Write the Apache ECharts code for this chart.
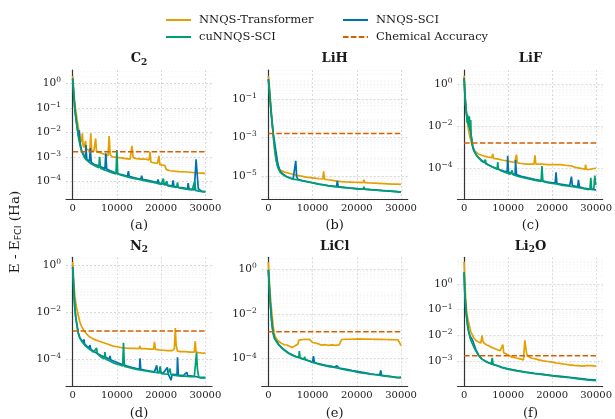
<!DOCTYPE html>
<html><head><meta charset="utf-8">
<script src="https://cdn.jsdelivr.net/npm/echarts@6/dist/echarts.min.js"></script>
<style>html,body{margin:0;padding:0;background:#fff}#c{width:615px;height:419px}</style>
</head><body><div id="c"></div>
<script>
// ---------- names, ticks ----------
const SERIES_NAMES = ['NNQS-Transformer', 'NNQS-SCI', 'cuNNQS-SCI', 'Chemical Accuracy'];
const CHEMICAL_ACCURACY = 1.6e-3;
const X_TICKS = [0, 10000, 20000, 30000];
const X_RANGE = [-1500, 31500];
const PANEL_MOLECULES = [['C', '2', ''], ['LiH', '', ''], ['LiF', '', ''], ['N', '2', ''], ['LiCl', '', ''], ['Li', '2', 'O']];
const PANEL_LETTERS = ['(a)', '(b)', '(c)', '(d)', '(e)', '(f)'];
const Y_TICKS_A = [1e-4, 1e-3, 1e-2, 1e-1, 1];
const Y_TICKS_B = [1e-5, 1e-3, 1e-1];
const Y_TICKS_C = [1e-4, 1e-2, 1];
const Y_TICKS_D = [1e-4, 1e-2, 1];
const Y_TICKS_E = [1e-4, 1e-2, 1];
const Y_TICKS_F = [1e-3, 1e-2, 1e-1, 1];
const MINOR_MULTIPLIERS = [2, 3, 4, 5, 6, 7, 8, 9];
// y extents (log10 exponents)
const Y_EXP_A = [-4.72, 0.54];
const Y_EXP_B = [-6.21, 0.51];
const Y_EXP_C = [-5.46, 0.68];
const Y_EXP_D = [-5.15, 0.33];
const Y_EXP_E = [-5.24, 0.54];
const Y_EXP_F = [-3.99, 1.04];

// ---------- (a) C2 ----------
const C2_TRANSFORMER = [[0,2.0],[150,1.0],[300,0.4],[500,0.15],[800,0.06],[1100,0.025],[1400,0.012],[1700,0.006],[2000,0.004],[2200,0.009],[2350,0.003],[2600,0.0024],[2900,0.0045],[3100,0.0021],[3500,0.0019],[3900,0.0018],[4100,0.009],[4300,0.0018],[4800,0.0017],[5200,0.0056],[5400,0.0016],[6000,0.0015],[6500,0.0014],[7000,0.0013],[7500,0.0012],[8000,0.0011],[8250,0.007],[8500,0.0012],[9000,0.001],[10000,0.00095],[11000,0.0009],[12000,0.00085],[13000,0.0008],[13400,0.0028],[13700,0.0009],[14500,0.00085],[15500,0.0008],[16500,0.0008],[17300,0.00075],[17500,0.0016],[17700,0.0006],[18500,0.00057],[19200,0.00055],[19500,0.0011],[19700,0.00048],[20300,0.00046],[20800,0.00045],[21200,0.0003],[22000,0.00027],[24000,0.00025],[26000,0.00024],[28000,0.00022],[30000,0.00021]];
const C2_SCI = [[0,1.6],[150,0.65],[300,0.27],[500,0.09],[800,0.032],[1100,0.013],[1300,0.007],[1500,0.012],[1600,0.005],[1800,0.003],[2000,0.0019],[2500,0.0012],[2900,0.00085],[3000,0.003],[3200,0.0008],[3800,0.00065],[4000,0.0023],[4200,0.0006],[4800,0.0005],[5500,0.00045],[6500,0.00038],[7300,0.00033],[7500,0.0014],[7700,0.00032],[8500,0.00027],[9500,0.00023],[10500,0.0002],[11500,0.00018],[12400,0.00016],[12600,0.00026],[12800,0.00016],[14000,0.00014],[15400,0.00012],[15600,0.00017],[15800,0.00012],[17000,0.00011],[18000,0.0001],[19100,0.00009],[19300,0.00012],[19500,0.000085],[20500,0.000078],[21500,0.00007],[22500,0.000064],[22700,0.00011],[22900,0.000062],[24000,0.000057],[25000,0.000054],[26000,0.00005],[26100,0.000085],[26300,0.00005],[27500,0.000045],[27700,0.00005],[27900,0.0008],[28200,0.0007],[28400,0.00005],[29200,0.000039],[30000,0.000037]];
const C2_CUNNQS = [[0,1.5],[150,0.6],[300,0.25],[500,0.08],[800,0.03],[1100,0.012],[1400,0.005],[1700,0.0028],[2000,0.0017],[2500,0.0011],[3000,0.00078],[3500,0.00065],[4000,0.00055],[5000,0.00043],[5900,0.00036],[6100,0.001],[6300,0.00034],[7000,0.0003],[8000,0.00026],[9000,0.00022],[9800,0.0002],[10000,0.0019],[10200,0.0002],[11000,0.00018],[12000,0.00016],[13000,0.00014],[14000,0.00013],[15000,0.00012],[16000,0.00011],[17000,0.0001],[18000,0.000092],[19000,0.000085],[20000,0.000075],[20500,0.00013],[20700,0.00007],[21000,0.000068],[21300,0.0001],[21500,0.000065],[22500,0.00006],[23500,0.000056],[23700,0.00009],[23900,0.000055],[25000,0.00005],[26000,0.000047],[27000,0.000045],[27600,0.0001],[27800,0.000043],[28500,0.00004],[29300,0.000038],[30000,0.000038]];

// ---------- (b) LiH ----------
const LIH_TRANSFORMER = [[0,1.6],[200,0.6],[400,0.15],[600,0.04],[800,0.01],[1000,0.003],[1200,0.0008],[1400,0.00025],[1700,0.00008],[2000,0.00004],[2600,0.00002],[3500,0.000016],[4500,0.000014],[5500,0.000012],[6500,0.0000105],[7500,0.0000095],[8500,0.0000085],[9500,0.000008],[10500,0.0000075],[11500,0.000007],[12300,0.0000068],[12500,0.000017],[12700,0.0000066],[13500,0.0000062],[14500,0.0000058],[15500,0.0000053],[16500,0.000005],[17500,0.0000048],[18500,0.0000047],[19500,0.0000046],[20500,0.0000045],[21400,0.0000044],[21600,0.0000062],[21800,0.0000044],[23000,0.0000042],[24000,0.0000041],[25000,0.000004],[26000,0.0000039],[27000,0.0000038],[28000,0.0000037],[29000,0.0000037],[30000,0.0000036]];
const LIH_SCI = [[0,1.1],[200,0.35],[400,0.09],[600,0.025],[800,0.008],[1000,0.0028],[1200,0.0011],[1400,0.0006],[1500,0.0004],[1600,0.00045],[1700,0.0002],[1900,0.0001],[2100,0.00005],[2300,0.00003],[2700,0.000017],[3200,0.000013],[4000,0.0000095],[4800,0.0000078],[5600,0.0000068],[6000,0.000008],[6200,0.00006],[6400,0.000009],[6700,0.0000065],[7500,0.0000058],[8500,0.0000052],[9500,0.0000046],[10500,0.0000041],[11500,0.0000037],[12500,0.0000034],[13500,0.0000031],[14500,0.0000029],[15400,0.0000027],[15600,0.0000055],[15800,0.0000027],[17000,0.0000025],[18000,0.0000023],[19000,0.0000022],[20000,0.0000021],[21500,0.000002],[23000,0.0000019],[24500,0.0000018],[26000,0.0000017],[27500,0.0000016],[29000,0.0000015],[30000,0.0000014]];
const LIH_CUNNQS = [[0,1.0],[200,0.32],[400,0.08],[600,0.022],[800,0.007],[1000,0.0024],[1200,0.0008],[1400,0.00028],[1600,0.00012],[1800,0.00006],[2000,0.000035],[2300,0.000022],[2700,0.000015],[3200,0.000012],[4000,0.0000092],[4800,0.0000077],[5600,0.0000067],[6500,0.0000062],[7500,0.0000056],[8500,0.000005],[9500,0.0000045],[10500,0.000004],[11500,0.0000036],[12500,0.0000033],[13500,0.000003],[14500,0.0000028],[15500,0.0000026],[16500,0.0000025],[17500,0.0000024],[18500,0.0000023],[19500,0.0000022],[20500,0.0000021],[21400,0.000002],[21600,0.0000027],[21800,0.000002],[23000,0.0000019],[24500,0.0000018],[25800,0.0000017],[26000,0.0000021],[26200,0.0000017],[27500,0.0000016],[29000,0.0000015],[30000,0.0000014]];

// ---------- (c) LiF ----------
const LIF_TRANSFORMER = [[0,2.6],[150,0.6],[300,0.15],[500,0.05],[700,0.02],[900,0.009],[1100,0.005],[1400,0.0027],[1700,0.0015],[2000,0.001],[2300,0.0007],[2700,0.00058],[3300,0.00047],[4000,0.00042],[4800,0.00037],[5500,0.00034],[6300,0.00032],[6500,0.00048],[6700,0.0003],[7500,0.00028],[8600,0.00025],[9500,0.00023],[10500,0.00021],[11500,0.00019],[11900,0.00045],[12100,0.00018],[13000,0.00017],[14000,0.00016],[15000,0.00016],[15900,0.00016],[16100,0.00042],[16300,0.00016],[17500,0.00016],[19000,0.00015],[20500,0.00015],[22000,0.00015],[23000,0.00014],[24500,0.00013],[25300,0.00011],[26500,0.0001],[27500,0.00009],[27600,0.00015],[27800,0.00009],[28500,0.000088],[29500,0.000098],[30000,0.0001]];
const LIF_SCI = [[0,2.0],[150,0.45],[300,0.15],[500,0.05],[700,0.025],[900,0.018],[1100,0.012],[1300,0.008],[1500,0.005],[1700,0.0025],[1900,0.0012],[2100,0.0008],[2400,0.00058],[2800,0.00042],[3300,0.00032],[4000,0.00024],[5000,0.00017],[6000,0.00013],[7000,0.000105],[8000,0.000088],[9000,0.000075],[9800,0.000068],[9900,0.0004],[10100,0.000065],[11000,0.000055],[11600,0.00005],[11700,0.00025],[11900,0.00005],[13000,0.000042],[14500,0.000035],[16000,0.00003],[17500,0.000026],[19000,0.000022],[20700,0.00002],[20900,0.000065],[21100,0.000019],[22500,0.000017],[24000,0.000015],[24400,0.00004],[24600,0.000015],[25800,0.000013],[26000,0.000028],[26200,0.000013],[27500,0.000011],[29000,0.00001],[30000,0.0000095]];
const LIF_CUNNQS = [[0,1.9],[150,0.4],[300,0.15],[450,0.06],[600,0.03],[700,0.015],[800,0.035],[900,0.012],[1000,0.028],[1100,0.009],[1200,0.03],[1300,0.012],[1400,0.006],[1500,0.02],[1600,0.004],[1800,0.0018],[2000,0.0011],[2300,0.0007],[2600,0.0005],[3000,0.00037],[3500,0.00028],[4000,0.00022],[4500,0.00019],[4850,0.00026],[5000,0.00016],[6000,0.00013],[7000,0.0001],[7500,0.00009],[7650,0.0002],[7800,0.00009],[8500,0.000075],[9500,0.000062],[10500,0.000053],[10900,0.00008],[11100,0.00005],[11500,0.000046],[12500,0.00004],[13500,0.000036],[14500,0.000032],[15500,0.000029],[16500,0.000026],[17500,0.000024],[17700,0.00013],[17900,0.000024],[19000,0.000021],[20000,0.000019],[21000,0.000018],[22000,0.000016],[23000,0.000015],[24000,0.000014],[25000,0.000013],[26000,0.000012],[27000,0.000011],[28000,0.00001],[28600,0.00001],[28800,0.000035],[29000,0.00001],[29500,0.000011],[29700,0.000045],[29900,0.000016],[30000,0.000016]];

// ---------- (d) N2 ----------
const N2_TRANSFORMER = [[0,1.35],[150,0.5],[300,0.13],[500,0.05],[700,0.025],[1000,0.012],[1300,0.007],[1600,0.004],[2000,0.0025],[2500,0.0017],[3000,0.0013],[3500,0.001],[4000,0.00085],[5000,0.00068],[6000,0.00058],[7000,0.0005],[8000,0.00043],[9000,0.00037],[10000,0.00034],[11000,0.00031],[12000,0.0003],[13000,0.00029],[14000,0.00029],[15000,0.00028],[15200,0.00036],[15400,0.00028],[16500,0.00028],[17500,0.00027],[18300,0.00027],[18500,0.00055],[18700,0.00026],[19500,0.00025],[20500,0.00024],[21500,0.00023],[22500,0.00023],[23000,0.00028],[23200,0.0021],[23400,0.0004],[23700,0.00022],[24500,0.00021],[25500,0.00021],[26500,0.0002],[27500,0.0002],[27700,0.00058],[27900,0.0002],[28500,0.00019],[29500,0.00018],[30000,0.00018]];
const N2_SCI = [[0,0.85],[150,0.27],[300,0.065],[500,0.016],[700,0.0065],[1000,0.0027],[1300,0.0013],[1600,0.00085],[2000,0.00065],[2400,0.0005],[2560,0.0007],[2700,0.00045],[3200,0.00036],[3800,0.0003],[3900,0.0004],[4100,0.00027],[4700,0.00022],[5500,0.00018],[6500,0.00014],[7500,0.00012],[8300,0.0001],[8440,0.00014],[8600,0.000095],[9500,0.00008],[10200,0.00007],[10330,0.000085],[10500,0.000065],[11500,0.000056],[12500,0.00005],[13500,0.000044],[14500,0.00004],[15100,0.000038],[15230,0.00011],[15400,0.000037],[16500,0.000034],[17500,0.000031],[18500,0.000029],[19000,0.000055],[19200,0.000028],[20500,0.000026],[21400,0.000045],[21600,0.000024],[22240,0.000013],[22500,0.000023],[23600,0.000022],[23700,0.00012],[23900,0.000021],[25000,0.00002],[25800,0.000028],[26000,0.00002],[27000,0.000019],[28000,0.000018],[29000,0.000016],[30000,0.000016]];
const N2_CUNNQS = [[0,0.8],[150,0.25],[300,0.06],[500,0.015],[700,0.006],[1000,0.0025],[1300,0.0012],[1600,0.0008],[2000,0.0006],[2500,0.00045],[3000,0.00035],[3500,0.0003],[4000,0.00025],[4700,0.0002],[5400,0.0003],[5600,0.00017],[6500,0.00012],[7200,0.000105],[7300,0.0002],[7500,0.0001],[8500,0.000082],[9500,0.000066],[10500,0.000058],[11300,0.000052],[11500,0.0005],[11700,0.00005],[12500,0.000046],[13500,0.000041],[14500,0.000037],[15500,0.000034],[16500,0.000032],[17500,0.00003],[18500,0.000028],[19500,0.000026],[19800,0.00005],[20000,0.000025],[20500,0.000024],[21500,0.000023],[22000,0.00004],[22200,0.000022],[22500,0.000021],[23500,0.00002],[24500,0.000019],[25500,0.000019],[26500,0.000018],[27500,0.000018],[27900,0.00002],[28000,0.00019],[28200,0.00004],[28500,0.000017],[29500,0.000017],[30000,0.000017]];

// ---------- (e) LiCl ----------
const LICL_TRANSFORMER = [[0,2.1],[150,0.6],[300,0.19],[500,0.05],[700,0.017],[900,0.007],[1100,0.0028],[1300,0.0015],[1500,0.001],[1800,0.0008],[2300,0.0006],[3000,0.00048],[3700,0.00042],[4300,0.0004],[4900,0.00035],[5400,0.00032],[5900,0.00036],[6300,0.00041],[6700,0.00045],[6900,0.00068],[7300,0.00075],[7800,0.00072],[8300,0.00074],[8800,0.00072],[9300,0.00073],[9700,0.0007],[10000,0.00053],[10600,0.0005],[11300,0.00046],[12000,0.0004],[12800,0.00042],[13600,0.00039],[14400,0.00041],[15200,0.00039],[16000,0.00041],[16400,0.0004],[16600,0.00072],[17500,0.00074],[18500,0.00074],[19500,0.00075],[20500,0.00076],[21500,0.00075],[22500,0.00075],[23500,0.00074],[24500,0.00073],[25500,0.00073],[26500,0.00072],[27500,0.00071],[28500,0.0007],[29300,0.0007],[29700,0.00065],[30000,0.00038]];
const LICL_SCI = [[0,0.95],[150,0.31],[300,0.085],[500,0.021],[700,0.0065],[900,0.0027],[1100,0.0014],[1400,0.00085],[1900,0.00058],[2400,0.00042],[3000,0.00031],[3500,0.00026],[4100,0.00021],[4600,0.00018],[5500,0.000145],[6300,0.000125],[7200,0.00011],[8000,0.000095],[9000,0.000082],[10000,0.00007],[10200,0.00013],[10400,0.000068],[11000,0.000062],[12000,0.000055],[13000,0.00005],[14000,0.000046],[15000,0.000042],[15500,0.000048],[16000,0.000038],[17000,0.000035],[18000,0.000032],[19000,0.000029],[20000,0.000027],[21000,0.000025],[22000,0.000023],[23000,0.000021],[24000,0.00002],[25200,0.000019],[25400,0.00003],[25600,0.000018],[26500,0.000017],[27500,0.000016],[28500,0.000015],[29500,0.000014],[30000,0.000015]];
const LICL_CUNNQS = [[0,0.9],[150,0.3],[300,0.08],[500,0.02],[700,0.006],[900,0.0025],[1100,0.0013],[1400,0.0008],[1900,0.00056],[2400,0.0004],[3000,0.0003],[3500,0.00025],[3800,0.00022],[3900,0.0003],[4100,0.0002],[4600,0.00017],[5500,0.00014],[6300,0.00012],[6900,0.00011],[7000,0.00022],[7200,0.000105],[8000,0.000092],[8200,0.00012],[8400,0.000088],[9000,0.00008],[10000,0.000068],[11000,0.00006],[12000,0.000052],[13000,0.000047],[14000,0.000043],[15000,0.00004],[16000,0.000036],[17000,0.000033],[18000,0.00003],[19000,0.000028],[20000,0.000025],[21000,0.000023],[22000,0.000022],[23000,0.00002],[24000,0.000019],[25000,0.000018],[26000,0.000017],[27000,0.000016],[28000,0.000015],[29000,0.000014],[30000,0.000014]];

// ---------- (f) Li2O ----------
const LI2O_TRANSFORMER = [[0,7.3],[100,2.5],[200,0.9],[350,0.3],[500,0.12],[700,0.06],[900,0.04],[1100,0.028],[1300,0.02],[1500,0.014],[1800,0.011],[2200,0.0078],[2700,0.0063],[3300,0.0055],[3800,0.005],[4000,0.0056],[4100,0.0098],[4250,0.006],[4600,0.0048],[5200,0.0042],[5800,0.0037],[6400,0.0033],[7000,0.003],[7600,0.0027],[8200,0.0025],[8600,0.0025],[8800,0.0043],[9000,0.0021],[9300,0.0019],[10000,0.0017],[10900,0.0014],[11800,0.0013],[12700,0.0012],[13500,0.0011],[13800,0.0063],[14000,0.0058],[14200,0.002],[14400,0.0016],[15200,0.0013],[16200,0.0012],[17000,0.0011],[18000,0.001],[19000,0.00095],[20000,0.00089],[21000,0.00083],[22000,0.00078],[23000,0.00074],[24000,0.0007],[25000,0.00067],[26000,0.00065],[26800,0.00063],[27200,0.00067],[28000,0.00066],[29000,0.00065],[30000,0.00063]];
const LI2O_SCI = [[0,2.8],[150,0.48],[300,0.19],[450,0.08],[650,0.04],[850,0.021],[1100,0.013],[1400,0.009],[1700,0.0075],[2000,0.006],[2300,0.0042],[2700,0.0027],[3300,0.0017],[4000,0.0012],[4800,0.00098],[5500,0.00086],[6200,0.00077],[7500,0.00066],[8600,0.00056],[10000,0.00049],[12000,0.00042],[14000,0.00037],[16000,0.00033],[18000,0.0003],[20000,0.00027],[22000,0.00025],[24000,0.00023],[26000,0.00021],[28000,0.00019],[30000,0.00018]];
const LI2O_CUNNQS = [[0,2.9],[150,0.5],[300,0.2],[450,0.08],[650,0.04],[850,0.02],[1100,0.012],[1400,0.0075],[1800,0.005],[2200,0.0035],[2700,0.0024],[3300,0.0016],[4000,0.0012],[4800,0.00098],[5500,0.00085],[6200,0.00076],[6400,0.0013],[6600,0.00073],[7500,0.00065],[8600,0.00055],[10000,0.00048],[12000,0.00041],[14000,0.00036],[16000,0.00032],[18000,0.00029],[20000,0.00026],[22000,0.00024],[24000,0.00022],[26000,0.0002],[28000,0.00018],[30000,0.00017]];

// ---------- assembly ----------
const PANEL_DATA = [
  [C2_TRANSFORMER, C2_SCI, C2_CUNNQS],
  [LIH_TRANSFORMER, LIH_SCI, LIH_CUNNQS],
  [LIF_TRANSFORMER, LIF_SCI, LIF_CUNNQS],
  [N2_TRANSFORMER, N2_SCI, N2_CUNNQS],
  [LICL_TRANSFORMER, LICL_SCI, LICL_CUNNQS],
  [LI2O_TRANSFORMER, LI2O_SCI, LI2O_CUNNQS]
];
const PANEL_YTICKS = [Y_TICKS_A, Y_TICKS_B, Y_TICKS_C, Y_TICKS_D, Y_TICKS_E, Y_TICKS_F];
const PANEL_YEXP = [Y_EXP_A, Y_EXP_B, Y_EXP_C, Y_EXP_D, Y_EXP_E, Y_EXP_F];

const SERIF = "'DejaVu Serif', serif";
const SANS = "'DejaVu Sans', sans-serif";
const TXT = '#1a1a1a';
const COLORS = ['#E69F00', '#0072B2', '#009E73', '#D55E00'];
const COLS_LEFT = [66, 261.7, 457.5];
const ROWS_TOP = [70, 257.3];
const GW = 146, GH = 129;

function minorTicks(exps) {
  const out = [];
  for (let d = Math.floor(exps[0]); d <= Math.ceil(exps[1]); d++) {
    MINOR_MULTIPLIERS.forEach(k => {
      const v = k * Math.pow(10, d);
      if (v > Math.pow(10, exps[0]) && v < Math.pow(10, exps[1])) out.push(v);
    });
  }
  return out;
}

const grids = [], xAxes = [], yAxes = [], yMinorAxes = [], series = [], graphics = [];
for (let i = 0; i < 6; i++) {
  const left = COLS_LEFT[i % 3], top = ROWS_TOP[Math.floor(i / 3)];
  grids.push({ left, top, width: GW, height: GH, containLabel: false });
  xAxes.push({
    type: 'value', gridIndex: i, min: X_RANGE[0], max: X_RANGE[1],
    axisLine: { show: true, lineStyle: { color: '#333', width: 1.2 } },
    axisTick: { show: false, customValues: X_TICKS },
    axisLabel: { customValues: X_TICKS, margin: 4, fontFamily: SERIF, fontSize: 10, color: TXT, formatter: v => String(v) },
    splitLine: { show: true, lineStyle: { color: '#d0d0d0', width: 0.8, type: [2, 2] } },
    z: 1
  });
  const exps = PANEL_YEXP[i];
  yAxes.push({
    type: 'log', logBase: 10, gridIndex: i,
    min: Math.pow(10, exps[0]), max: Math.pow(10, exps[1]),
    axisLine: { show: true, lineStyle: { color: '#333', width: 1.2 } },
    axisTick: { show: false, customValues: PANEL_YTICKS[i] },
    axisLabel: {
      customValues: PANEL_YTICKS[i], margin: 5,
      formatter: v => {
        const e = Math.round(Math.log10(v));
        return '{b|10}{s|' + (e < 0 ? '\u2212' + (-e) : String(e)) + '}';
      },
      rich: {
        b: { fontFamily: SERIF, fontSize: 10.5, color: TXT, lineHeight: 14, verticalAlign: 'middle' },
        s: { fontFamily: SERIF, fontSize: 7.5, color: TXT, lineHeight: 4, verticalAlign: 'top' }
      }
    },
    splitLine: { show: true, lineStyle: { color: '#d0d0d0', width: 0.8, type: [2, 2] } },
    z: 1
  });
  yMinorAxes.push({
    type: 'log', logBase: 10, gridIndex: i,
    min: Math.pow(10, exps[0]), max: Math.pow(10, exps[1]),
    axisLine: { show: false }, axisLabel: { show: false },
    axisTick: { show: false, customValues: minorTicks(exps) },
    splitLine: { show: true, lineStyle: { color: '#efefef', width: 0.6, type: [1.5, 2] } },
    z: 0
  });
  for (let k = 0; k < 3; k++) {
    series.push({
      type: 'line', name: SERIES_NAMES[k], xAxisIndex: i, yAxisIndex: i,
      data: PANEL_DATA[i][k], showSymbol: false, symbol: 'none',
      lineStyle: { color: COLORS[k], width: 1.7 }, itemStyle: { color: COLORS[k] },
      z: 2 + k
    });
  }
  series.push({
    type: 'line', name: SERIES_NAMES[3], xAxisIndex: i, yAxisIndex: i,
    data: [[X_TICKS[0], CHEMICAL_ACCURACY], [X_TICKS[X_TICKS.length - 1], CHEMICAL_ACCURACY]],
    showSymbol: false, symbol: 'none',
    lineStyle: { color: COLORS[3], width: 1.5, type: [5.5, 2.4] }, itemStyle: { color: COLORS[3] },
    z: 6
  });
  const cx = left + GW / 2;
  const m = PANEL_MOLECULES[i];
  let t = '{t|' + m[0] + '}';
  if (m[1]) t += '{sub|' + m[1] + '}';
  if (m[2]) t += '{t|' + m[2] + '}';
  graphics.push({
    type: 'text', x: cx, y: top - 11,
    style: {
      text: t, align: 'center', verticalAlign: 'middle',
      rich: {
        t: { fontFamily: SERIF, fontWeight: 'bold', fontSize: 13, fill: TXT, lineHeight: 16, verticalAlign: 'middle' },
        sub: { fontFamily: SERIF, fontWeight: 'bold', fontSize: 9, fill: TXT, lineHeight: 8, verticalAlign: 'bottom' }
      }
    }
  });
  graphics.push({
    type: 'text', x: cx, y: top + GH + 27,
    style: { text: PANEL_LETTERS[i], align: 'center', verticalAlign: 'middle', fontFamily: SERIF, fontSize: 13, fill: TXT }
  });
}
graphics.push({
  type: 'text', x: 15, y: 232, rotation: Math.PI / 2,
  style: {
    text: '{a|E - E}{sub|FCI}{a| (Ha)}', align: 'center', verticalAlign: 'middle',
    rich: {
      a: { fontFamily: SERIF, fontSize: 13.5, fill: TXT, lineHeight: 18, verticalAlign: 'middle' },
      sub: { fontFamily: SANS, fontSize: 9.5, fill: TXT, lineHeight: 9, verticalAlign: 'bottom' }
    }
  }
});

const legendBase = {
  itemWidth: 25, itemHeight: 12, selectedMode: false,
  itemStyle: { opacity: 0, borderWidth: 0 },
  textStyle: { fontFamily: SERIF, fontSize: 11.5, color: TXT, padding: [0, 0, 0, 3] }
};
const legends = [
  Object.assign({}, legendBase, { data: [SERIES_NAMES[0]], left: 160, top: 9 }),
  Object.assign({}, legendBase, { data: [SERIES_NAMES[1]], left: 337, top: 9 }),
  Object.assign({}, legendBase, { data: [SERIES_NAMES[2]], left: 160, top: 26 }),
  Object.assign({}, legendBase, { data: [SERIES_NAMES[3]], left: 337, top: 26 })
];

const chart = echarts.init(document.getElementById('c'), null, { renderer: 'canvas' });
chart.setOption({
  animation: false,
  backgroundColor: '#fff',
  grid: grids, xAxis: xAxes, yAxis: yAxes.concat(yMinorAxes), series,
  legend: legends, graphic: graphics
});
</script></body></html>
